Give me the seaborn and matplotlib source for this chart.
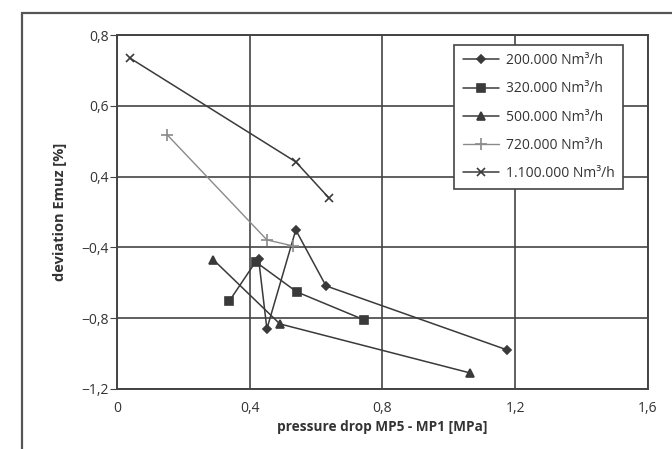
import matplotlib
matplotlib.use("Agg")
import matplotlib.pyplot as plt
import seaborn as sns
import pandas as pd
import numpy as np

# series (y in axis grid units, labels below are as printed)
x_200 = [0.427, 0.452, 0.539, 0.630, 1.176]
y_200 = [-0.466, -0.861, -0.302, -0.618, -0.980]
x_320 = [0.339, 0.418, 0.542, 0.745]
y_320 = [-0.703, -0.482, -0.652, -0.810]
x_500 = [0.291, 0.491, 1.064]
y_500 = [-0.471, -0.833, -1.110]
x_720 = [0.152, 0.452, 0.530]
y_720 = [0.235, -0.358, -0.392]
x_1100 = [0.039, 0.539, 0.639]
y_1100 = [0.670, 0.083, -0.121]

labels = ["200.000 Nm³/h", "320.000 Nm³/h", "500.000 Nm³/h",
          "720.000 Nm³/h", "1.100.000 Nm³/h"]
x_ticks = [0, 0.4, 0.8, 1.2, 1.6]
x_ticklabels = ["0", "0,4", "0,8", "1,2", "1,6"]
y_ticks = [0.8, 0.4, 0.0, -0.4, -0.8, -1.2]
y_ticklabels = ["0,8", "0,6", "0,4", "\u22120,4", "\u22120,8", "\u22121,2"]

sns.set_style("white")
plt.rcParams['font.family'] = ['Open Sans', 'DejaVu Sans']

fig = plt.figure(figsize=(6.72, 4.49), dpi=100)
ax = fig.add_axes([0.174, 0.134, 0.790, 0.788])

# outer frame of the scanned figure
fig.patches.append(plt.Rectangle((0.033, -0.05), 1.2, 1.021, transform=fig.transFigure,
                                 fill=False, edgecolor="#555555", linewidth=1.6))

dark = "#3a3a3a"
styles = [
    (x_200, y_200, "D", 4, dark, 1.1),
    (x_320, y_320, "s", 6, dark, 1.1),
    (x_500, y_500, "^", 6, dark, 1.1),
    (x_720, y_720, "+", 8, "#8a8a8a", 1.0),
    (x_1100, y_1100, "x", 6, dark, 1.1),
]
for (xs, ys, m, ms, c, lw), lab in zip(styles, labels):
    sns.lineplot(x=xs, y=ys, sort=False, marker=m, markersize=ms, color=c,
                 linewidth=lw, markeredgecolor=c, markeredgewidth=1.2,
                 label=lab, ax=ax)

ax.set_xlim(0, 1.6)
ax.set_ylim(-1.2, 0.8)
ax.set_xticks(x_ticks)
ax.set_xticklabels(x_ticklabels)
ax.set_yticks(y_ticks)
ax.set_yticklabels(y_ticklabels)
ax.grid(True, color="#444444", linewidth=1.2)
for s in ax.spines.values():
    s.set_color("#444444")
    s.set_linewidth(1.4)
ax.tick_params(axis="y", left=True, length=5, color="#444444", labelsize=10,
               labelcolor="#333333", pad=1)
ax.tick_params(axis="x", bottom=False, labelsize=10, labelcolor="#333333", pad=5)

ax.set_xlabel("pressure drop MP5 - MP1 [MPa]", fontsize=9.8, fontweight="bold",
              color="#333333", labelpad=3)
ax.set_ylabel("deviation Emuz [%]", fontsize=10.5, fontweight="bold",
              color="#333333", labelpad=10)

leg = ax.legend(loc="upper right", bbox_to_anchor=(0.953, 0.972), fontsize=10,
                frameon=True, fancybox=False, edgecolor="#444444",
                handlelength=2.6, labelspacing=0.95, borderpad=0.6,
                handletextpad=0.5, framealpha=1, borderaxespad=0)
leg.get_frame().set_linewidth(1.2)
for t in leg.get_texts():
    t.set_color("#333333")

fig.savefig("out.png", dpi=100)
